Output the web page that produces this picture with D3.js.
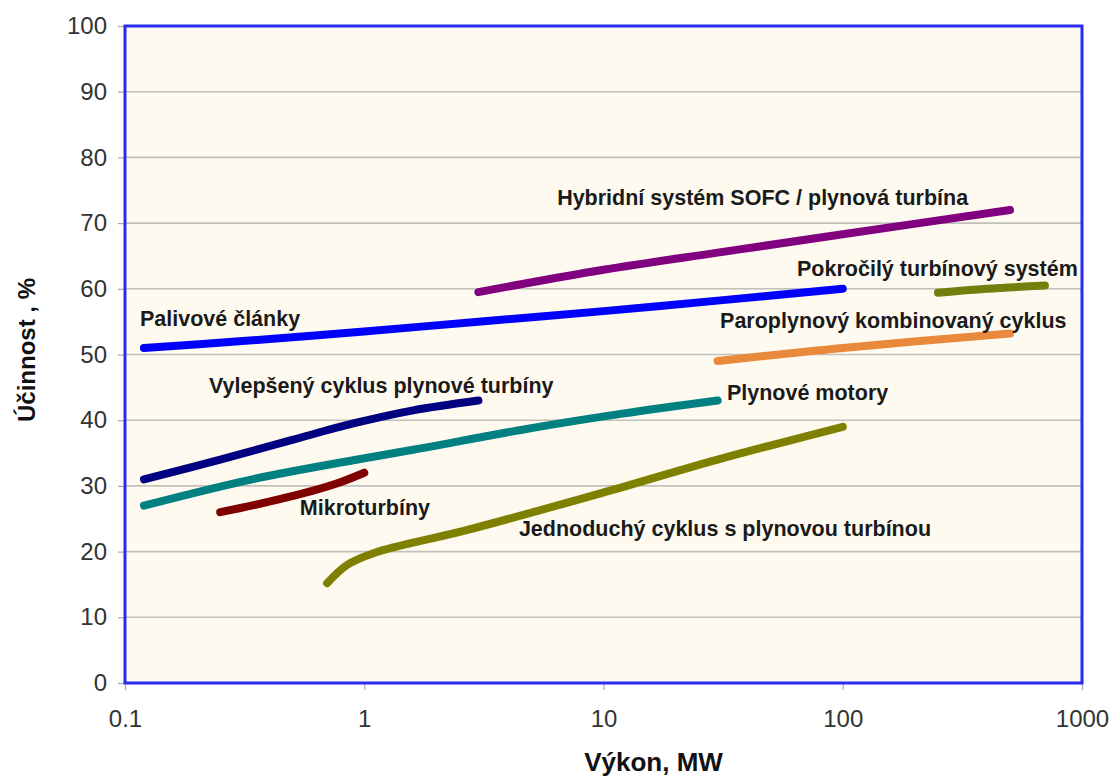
<!DOCTYPE html>
<html>
<head>
<meta charset="utf-8">
<script src="https://cdn.jsdelivr.net/npm/d3@7"></script>
<style>
  html, body { margin: 0; padding: 0; background: #ffffff; }
  svg { display: block; }
</style>
</head>
<body>
<svg id="chart" width="1113" height="778"></svg>
<script>
// Efficiency of power generation technologies vs. unit output (log scale)
const xTicks = [0.1, 1, 10, 100, 1000];
const yTicks = [0, 10, 20, 30, 40, 50, 60, 70, 80, 90, 100];

// Each series: [output MW, efficiency %]
const palivoveClanky = [[0.12, 51], [0.3, 52], [1, 53.5], [3, 55], [10, 56.6], [30, 58.2], [100, 60]];
const hybridniSystem = [[3, 59.5], [10, 62.9], [30, 65.5], [100, 68.3], [500, 72]];
const pokrocilySystem = [[250, 59.4], [400, 60], [700, 60.5]];
const paroplynovyCyklus = [[30, 49], [100, 51], [500, 53.2]];
const vylepsenyCyklus = [[0.12, 31], [0.25, 34], [0.5, 37], [0.9, 39.5], [1.6, 41.5], [3, 43]];
const plynoveMotory = [[0.12, 27], [0.34, 31], [0.9, 33.9], [1.6, 35.5], [5, 38.8], [12, 41], [30, 43]];
const mikroturbiny = [[0.25, 26], [0.4, 27.6], [0.6, 29.2], [0.8, 30.6], [1, 32]];
const jednoduchyCyklus = [[0.7, 15.2], [0.85, 18], [1.1, 19.8], [2.7, 23.3], [10, 29], [30, 34], [100, 39]];

const seriesList = [
  { data: palivoveClanky, color: "#0000ff" },
  { data: hybridniSystem, color: "#800080" },
  { data: pokrocilySystem, color: "#737f0c" },
  { data: paroplynovyCyklus, color: "#e8893c" },
  { data: vylepsenyCyklus, color: "#000080" },
  { data: plynoveMotory, color: "#008080" },
  { data: mikroturbiny, color: "#800000" },
  { data: jednoduchyCyklus, color: "#808000" }
];

// Text annotations placed in data coordinates: [label, output MW, efficiency %]
const annotations = [
  ["Hybridní systém SOFC / plynová turbína", 6.4, 72.8],
  ["Pokročilý turbínový systém", 64.4, 62.0],
  ["Palivové články", 0.1155, 54.4],
  ["Paroplynový kombinovaný cyklus", 30.7, 54.1],
  ["Vylepšený cyklus plynové turbíny", 0.2244, 44.1],
  ["Plynové motory", 32.8, 43.0],
  ["Mikroturbíny", 0.538, 25.5],
  ["Jednoduchý cyklus s plynovou turbínou", 4.43, 22.3]
];

const W = 1113, H = 778;
const margin = { top: 26, right: 31, bottom: 95, left: 125 };
const iw = W - margin.left - margin.right;
const ih = H - margin.top - margin.bottom;

const svg = d3.select("#chart");
const g = svg.append("g").attr("transform", `translate(${margin.left},${margin.top})`);

const x = d3.scaleLog().domain([0.1, 1000]).range([0, iw]);
const y = d3.scaleLinear().domain([0, 100]).range([ih, 0]);

// plot background
g.append("rect")
  .attr("width", iw).attr("height", ih)
  .attr("fill", "#fefaef");

// horizontal gridlines
g.append("g")
  .selectAll("line")
  .data(yTicks.filter(v => v > 0 && v < 100))
  .join("line")
  .attr("x1", 0).attr("x2", iw)
  .attr("y1", d => y(d)).attr("y2", d => y(d))
  .attr("stroke", "#c2c0ba")
  .attr("stroke-width", 1.6);

// y axis
const yAxis = g.append("g")
  .call(d3.axisLeft(y).tickValues(yTicks).tickSize(7).tickPadding(11).tickFormat(d3.format("d")));
yAxis.select(".domain").remove();
yAxis.selectAll(".tick line").attr("stroke", "#a8a8a8").attr("stroke-width", 1.2);
yAxis.selectAll(".tick text")
  .attr("fill", "#333333")
  .style("font-family", "'Liberation Sans', Arial, sans-serif")
  .style("font-size", "24px");

// x axis
const xAxis = g.append("g")
  .attr("transform", `translate(0,${ih})`)
  .call(d3.axisBottom(x).tickValues(xTicks).tickSize(7).tickPadding(20).tickFormat(d => String(d)));
xAxis.select(".domain").remove();
xAxis.selectAll(".tick line").attr("stroke", "#a8a8a8").attr("stroke-width", 1.2);
xAxis.selectAll(".tick text")
  .attr("fill", "#333333")
  .style("font-family", "'Liberation Sans', Arial, sans-serif")
  .style("font-size", "24px");

// series curves
const line = d3.line()
  .x(d => x(d[0]))
  .y(d => y(d[1]))
  .curve(d3.curveCatmullRom.alpha(0.5));

g.append("g")
  .selectAll("path")
  .data(seriesList)
  .join("path")
  .attr("d", s => line(s.data))
  .attr("fill", "none")
  .attr("stroke", s => s.color)
  .attr("stroke-width", 8)
  .attr("stroke-linecap", "round")
  .attr("stroke-linejoin", "round");

// annotations
g.append("g")
  .selectAll("text")
  .data(annotations)
  .join("text")
  .attr("x", d => x(d[1]))
  .attr("y", d => y(d[2]))
  .attr("fill", "#1a1a1a")
  .style("font-family", "'Liberation Sans', Arial, sans-serif")
  .style("font-weight", "bold")
  .style("font-size", "21.5px")
  .text(d => d[0]);

// plot frame
g.append("rect")
  .attr("width", iw).attr("height", ih)
  .attr("fill", "none")
  .attr("stroke", "#2b2bf0")
  .attr("stroke-width", 3);

// axis titles
svg.append("text")
  .attr("x", margin.left + iw / 2 + 50)
  .attr("y", 771)
  .attr("text-anchor", "middle")
  .attr("fill", "#111111")
  .style("font-family", "'Liberation Sans', Arial, sans-serif")
  .style("font-weight", "bold")
  .style("font-size", "26px")
  .text("Výkon, MW");

svg.append("text")
  .attr("transform", `translate(35,${350}) rotate(-90)`)
  .attr("text-anchor", "middle")
  .attr("fill", "#111111")
  .style("font-family", "'Liberation Sans', Arial, sans-serif")
  .style("font-weight", "bold")
  .style("font-size", "24px")
  .text("Účinnost , %");
</script>
</body>
</html>
